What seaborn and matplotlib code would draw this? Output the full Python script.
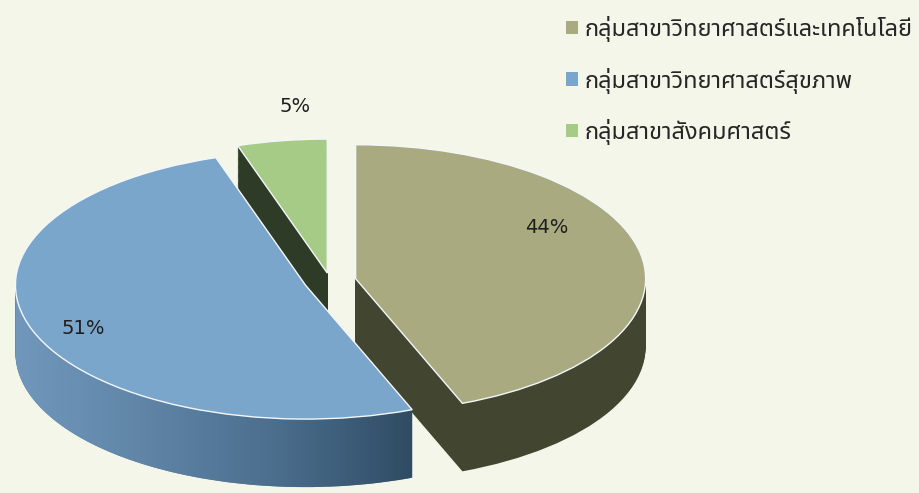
import numpy as np
import matplotlib
matplotlib.use("Agg")
import matplotlib.pyplot as plt
from matplotlib.patches import Polygon
from matplotlib.colors import LinearSegmentedColormap
import seaborn as sns

# ---- data ----
categories = ["กลุ่มสาขาวิทยาศาสตร์และเทคโนโลยี",
              "กลุ่มสาขาวิทยาศาสตร์สุขภาพ",
              "กลุ่มสาขาสังคมศาสตร์"]
shares = [44, 51, 5]
pct_labels = ["44%", "51%", "5%"]

# ---- style ----
top_colors = ["#A9AA80", "#7BA6CC", "#A6CB87"]
side_colors = ["#42452F", "#5A7E9E", "#2E3C27"]
explode = [0.09, 0.09, 0.06]
label_place = [(30.3, 0.765), (203.1, 0.834), (95.1, 1.245)]  # (angle deg, distance) from wedge centre

sns.set_theme(style="white")
plt.rcParams['font.family'] = ['Noto Sans Thai', 'DejaVu Sans']

W, H = 919, 493
bg = "#F4F6E9"
fig = plt.figure(figsize=(W / 100, H / 100), dpi=100)
fig.patch.set_facecolor(bg)
ax = fig.add_axes([0, 0, 1, 1])
ax.set_facecolor(bg)

RX, RY = 290, 134      # pixels per data unit (x, y) -> tilted ellipse
CX, CY = 330, 281      # pie centre in pixels
depth = 68 / RY        # thickness in data units
n_layers = 60

# side layers (bottom to top)
for i in range(n_layers, 0, -1):
    off = depth * i / n_layers
    ax.pie(shares, explode=explode, startangle=90, counterclock=False,
           colors=side_colors, center=(0, -off), radius=1, frame=True,
           wedgeprops=dict(linewidth=0, zorder=1))

# top faces
top = ax.pie(shares, explode=explode, startangle=90, counterclock=False,
             colors=top_colors, center=(0, 0), radius=1, frame=True,
             wedgeprops=dict(edgecolor="#F4F7FA", linewidth=1.0, zorder=3))
wedges = top[0]

# gradient shading of the blue outer side
bw = wedges[1]
bx, by = bw.center
t1, t2 = bw.theta1 % 360, bw.theta2 % 360
a0, a1 = 180.0, (t1 if t1 > 180 else t2)
a0, a1 = min(a0, a1), max(a0, a1)
ts = np.radians(np.linspace(a0, a1, 200))
top_pts = np.column_stack([bx + np.cos(ts), by + np.sin(ts)])
bot_pts = np.column_stack([bx + np.cos(ts[::-1]), by + np.sin(ts[::-1]) - depth])
poly = Polygon(np.vstack([top_pts, bot_pts]), closed=True, facecolor="none",
               edgecolor="none", transform=ax.transData)
ax.add_patch(poly)
cmap = LinearSegmentedColormap.from_list("bside", ["#7198BC", "#5F84A6", "#4A6D8C", "#2F4B63"])
grad = np.linspace(0, 1, 256).reshape(1, -1)
im = ax.imshow(grad, cmap=cmap, aspect="auto",
               extent=[bx + np.cos(np.radians(a0)) - 0.01, bx + np.cos(np.radians(a1)) + 0.01,
                       by - 1 - depth - 0.05, by + 0.05],
               zorder=2, interpolation="bilinear")
im.set_clip_path(poly)

# percent labels
for w, lab, (ang, dist) in zip(wedges, pct_labels, label_place):
    cx, cy = w.center
    ax.text(cx + dist * np.cos(np.radians(ang)), cy + dist * np.sin(np.radians(ang)),
            lab, ha="center", va="center", fontsize=14, color="#1E1E1E",
            family=["DejaVu Sans"], zorder=5)

ax.set_aspect("auto")
ax.set_xlim((0 - CX) / RX, (W - CX) / RX)
ax.set_ylim((CY - H) / RY, (CY - 0) / RY)
ax.axis("off")

leg = ax.legend(wedges, categories, loc="upper left",
                bbox_to_anchor=(566 / W, 1 - 16 / H), bbox_transform=fig.transFigure,
                frameon=False, fontsize=17, handlelength=0.5, handleheight=0.5,
                handletextpad=0.3, labelspacing=1.08, borderpad=0, borderaxespad=0)
for h in leg.legend_handles:
    h.set_edgecolor("none")
for t in leg.get_texts():
    t.set_color("#262626")

fig.savefig("out.png", dpi=100, facecolor=bg)
